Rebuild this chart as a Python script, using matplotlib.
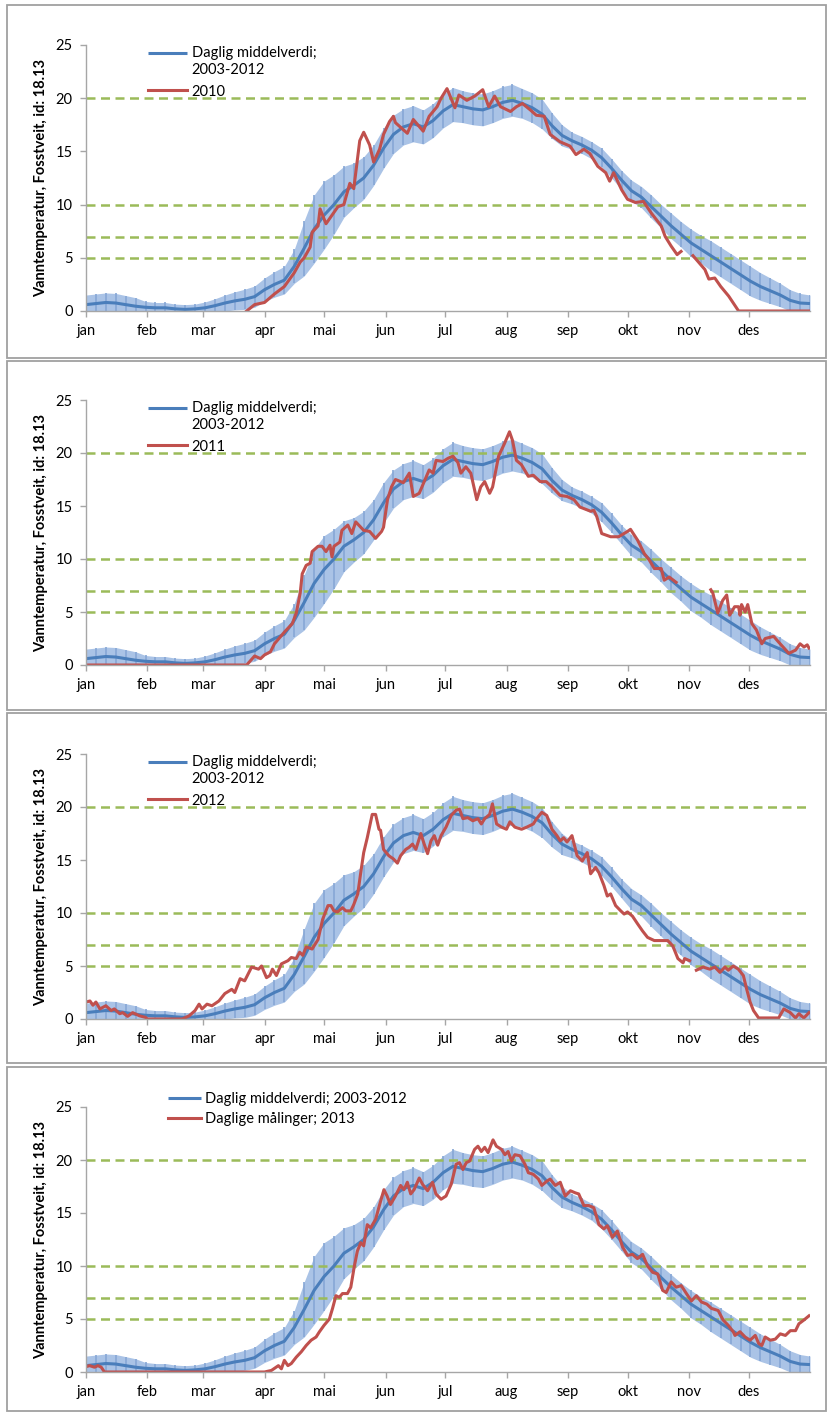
import numpy as np
import matplotlib
matplotlib.use("Agg")
import matplotlib.pyplot as plt
from matplotlib.patches import Rectangle
from matplotlib.legend_handler import HandlerLine2D

plt.rcParams['font.family'] = ['Lato', 'DejaVu Sans']

# ---------------- data ----------------
month_start = [0, 31, 59, 90, 120, 151, 181, 212, 243, 273, 304, 334]
month_labels = ['jan', 'feb', 'mar', 'apr', 'mai', 'jun', 'jul', 'aug', 'sep', 'okt', 'nov', 'des']
y_ticks = [0, 5, 10, 15, 20, 25]
thresholds = [5, 7, 10, 20]

mean_days = np.arange(0, 366, 5)
mean_vals = np.array([
    0.6, 0.7, 0.8, 0.75, 0.6, 0.45,
    0.35, 0.3, 0.3, 0.2, 0.15, 0.2,
    0.3, 0.5, 0.75, 0.95, 1.1, 1.35,
    2.0, 2.5, 2.9, 4.2,
    5.9, 7.7, 9.0, 10.0,
    11.2, 11.8, 12.5, 13.7, 15.3,
    16.6, 17.3, 17.6, 17.3, 17.9, 18.8,
    19.4, 19.2, 19.0, 18.9, 19.2, 19.6, 19.8, 19.5, 19.1, 18.5,
    17.4, 16.5,
    16.0, 15.6, 15.1, 14.4, 13.4, 12.3,
    11.3, 10.7, 9.8, 8.9, 8.0, 7.2,
    6.4, 5.8, 5.2, 4.6, 4.0, 3.4,
    2.8, 2.3, 1.9, 1.5, 1.0, 0.75, 0.7])
mean_std = np.array([
    0.9, 0.9, 0.9, 0.9, 0.85, 0.8,
    0.55, 0.5, 0.5, 0.45, 0.45, 0.45,
    0.55, 0.65, 0.75, 0.85, 0.95, 1.0,
    1.1, 1.2, 1.3, 1.6,
    2.6, 3.2, 3.2, 2.8,
    2.4, 2.1, 2.0, 1.9, 1.9,
    1.8, 1.7, 1.7, 1.6, 1.6, 1.6,
    1.6, 1.5, 1.5, 1.5, 1.5, 1.5, 1.5, 1.4, 1.4, 1.4,
    1.2, 1.0,
    0.8, 0.8, 0.8, 0.9, 0.9, 0.9,
    1.0, 1.0, 1.1, 1.1, 1.2, 1.2,
    1.3, 1.3, 1.4, 1.4, 1.4, 1.4,
    1.4, 1.3, 1.2, 1.1, 1.0, 0.9, 0.8])

nan = np.nan
y2010_days = [81, 85, 90, 95, 100, 105, 108, 110, 113, 114, 117, 118, 121, 124, 127, 130, 133, 135,
              138, 140, 143, 145, 148, 150, 153, 155,
              156, 162, 165, 170, 173, 177, 179, 182, 186, 188, 192, 196, 200, 203, 206, 209, 214,
              217, 220, 224, 227, 231, 234, 239, 244, 247, 251, 254, 258, 262, 264, 266, 270, 273,
              277, 281, 285, 290, 292, 295, 298, 300, 302, 306, 312, 314, 317, 320, 324, 329, 365]
y2010_vals = [0, 0.6, 0.8, 1.6, 2.3, 3.6, 4.6, 5.0, 6.0, 7.4, 8.0, 9.6, 8.2, 9.0, 9.8, 10.0, 12.0, 11.5,
              16.0, 16.8, 15.6, 14.0, 15.2, 16.6, 17.8, 18.3,
              17.7, 16.7, 18.0, 16.9, 18.3, 19.2, 20.0, 20.9, 19.1, 20.3, 19.8, 20.2, 20.8, 19.2, 20.2, 19.2, 18.75,
              19.2, 19.5, 18.9, 18.4, 18.3, 16.6, 15.9, 15.5, 14.7, 15.2, 14.8, 13.6, 13.0, 12.2, 13.0, 11.4, 10.5,
              10.2, 10.3, 9.2, 8.0, 7.0, 6.1, 5.3, 5.6, nan, 5.2, 3.9, 3.0, 3.1, 2.3, 1.4, 0, 0]

y2011_days = [0, 81, 85, 88, 90, 93, 95, 100, 104, 106, 108, 109, 111, 113, 114, 117, 119, 121, 123, 124,
              125, 128, 129, 132, 134, 136, 139, 140, 143, 146, 149, 150, 152, 154,
              156, 160, 163, 165, 168, 170.5, 173, 175, 176.5, 180, 182.5, 185, 187.5, 189, 191.5, 194,
              197, 199, 201, 203.5, 205, 208, 211, 213.5, 215, 217, 219.5, 223, 225.5, 229, 232, 235,
              239, 242.5, 246, 249, 254.5, 256, 257.5, 260, 264.5, 268.5, 273, 274.5, 278, 281.5, 284,
              286.5, 290, 291.5, 294, 297.5, 306, 315, 316, 318.5, 321, 323, 324.5, 327, 329, 329.7,
              330.5, 332.3, 333.6, 335.7, 338, 340.7, 342.4, 346.7, 349, 354.3, 357.7, 360, 362, 363.6, 364.5]
y2011_vals = [0, 0, 0.85, 0.6, 0.95, 1.25, 2.0, 3.1, 3.9, 4.9, 6.8, 8.6, 9.4, 9.6, 10.7, 11.2, 11.2, 10.7, 11.3, 10.2,
              11.2, 11.6, 12.7, 13.2, 12.4, 13.5, 12.9, 12.7, 12.6, 11.95, 12.6, 13.0, 15.6, 16.8,
              17.5, 17.2, 18.1, 15.9, 16.2, 17.3, 18.4, 18.1, 19.3, 19.2, 19.5, 19.7, 19.1, 18.1, 18.7, 18.1,
              15.6, 16.8, 17.3, 16.2, 16.8, 19.7, 20.9, 22.0, 21.2, 19.3, 18.9, 17.8, 17.9, 17.3, 17.3, 16.8,
              16.0, 15.9, 15.6, 14.9, 14.5, 14.6, 14.0, 12.4, 12.1, 12.1, 12.6, 12.8, 11.8, 10.5, 9.9,
              9.1, 9.1, 8.0, 8.3, 7.8, nan, 7.1, 6.8, 4.9, 6.1, 6.6, 4.7, 5.5, 5.5, 4.7,
              5.7, 5.0, 5.7, 3.9, 3.3, 2.0, 2.5, 2.7, 2.2, 1.1, 1.4, 2.0, 1.7, 1.9, 1.6]

y2012_days = [0, 2, 3.5, 5, 7, 8.5, 10, 12.7, 14.3, 17, 18.5, 21, 23.5, 27, 30, 31, 48.5, 52, 55, 57,
              58.5, 61, 63.5, 67, 70, 73.5, 75, 77.7, 80, 83.5, 87, 88.5, 91, 92.7, 94, 96, 98.5, 101.8,
              103.5, 106, 107.7, 109.3, 111, 114, 117, 119.3, 122, 123.5, 125, 126.8, 129.3, 131, 133.5,
              135, 137, 138.5, 140, 141.8, 144.3, 146, 147.7, 148.5, 150, 152.7, 155, 157,
              158.6, 161.2, 162.9, 164.6, 166.3, 168.8, 170.5, 172.2, 173.9, 175.6, 177.3, 179, 181.5,
              184.1, 186.6, 188.3, 190, 192.5, 195, 197.6, 199.3, 201, 203.5, 204.9, 207, 209.5, 212,
              213.7, 216.2, 219.6, 222.2, 225.5, 227.2, 229.8, 232.3, 234.9, 237.4, 239.1, 240.8, 242.5,
              245, 247.6, 250.2, 252.7, 254.4, 256.9, 258.6, 261.1, 262.8, 264.5, 267, 269.6, 271.3, 273,
              275.5, 278, 280.6, 283.1, 286.5, 289.9, 293.3, 295.8, 298.4, 301, 301.8, 304.3, 306, 307.7,
              311.1, 314.5, 317, 319.6, 322.1, 323.8, 326.3, 328.9, 331.4, 333.1, 334.8, 336.5, 339.1,
              342.4, 349.2, 351.8, 355.1, 357.7, 359.4, 361.9, 364.5]
y2012_vals = [1.6, 1.7, 1.3, 1.6, 0.95, 1.1, 1.25, 0.8, 0.95, 0.5, 0.6, 0.25, 0.6, 0.3, 0.15, 0, 0, 0.3, 0.8, 1.4,
              0.95, 1.4, 1.25, 1.7, 2.4, 2.8, 2.5, 3.8, 3.6, 4.9, 4.7, 5.0, 3.9, 4.1, 4.7, 4.1, 5.2, 5.5,
              5.8, 5.7, 6.3, 6.0, 6.8, 6.6, 7.5, 9.4, 10.7, 10.7, 10.2, 10.1, 10.5, 10.2, 10.2,
              10.8, 11.8, 13.8, 15.7, 17.1, 19.3, 19.3, 17.9, 17.8, 16.0, 15.4, 15.1, 14.7,
              15.4, 16.0, 16.2, 16.5, 16.0, 17.5, 16.5, 15.6, 16.8, 17.3, 16.4, 17.3, 18.1,
              19.2, 19.7, 19.8, 18.9, 19.0, 18.7, 18.9, 18.4, 18.9, 19.3, 20.3, 18.4, 18.1, 17.9,
              18.6, 18.1, 17.9, 18.1, 18.4, 18.9, 19.5, 19.2, 17.9, 17.3, 16.8, 17.1, 16.7,
              17.3, 15.4, 14.9, 15.7, 13.7, 14.3, 13.8, 12.6, 11.6, 11.8, 10.7, 10.2, 9.9, 10.1,
              9.7, 9.0, 8.3, 7.7, 7.4, 7.4, 7.4, 6.9, 5.7, 5.3, 5.7, 5.5, nan, 4.6,
              4.9, 4.7, 4.9, 4.4, 4.9, 4.6, 5.0, 4.7, 4.1, 2.8, 1.6, 0.8, 0.1,
              0.1, 0.1, 0.95, 0.6, 0.1, 0.5, 0.1, 0.6]

y2013_days = [0, 1.8, 4.3, 6, 7.7, 9.3, 90, 93.5, 97, 98.5, 100, 101.8, 103.5, 106, 108.5, 111, 113.5,
              116, 117.7, 120, 122.7, 124.3, 126, 127.7, 129.3, 131.8, 133.5, 135.2, 136.8, 138.5, 140,
              141.8, 143.5, 146, 148.5, 150.2, 151.8, 153.5, 156,
              158.6, 160.3, 162, 163.7, 165.4, 168, 169.7, 172.2, 174.7, 176.4, 179, 181.5, 184.1,
              186.6, 188.3, 190, 191.7, 193.4, 195.9, 197.6, 199.3, 201, 202.7, 205.2, 206.9, 209.5,
              211.2, 212.8, 214.5, 216.2, 218.8, 221.3, 223, 225.5, 228.1, 229.8, 232.3, 234, 236.6,
              239.1, 241.6, 244.2, 246.7, 248.4, 251, 253.5, 256, 258.6, 261.1, 262.8, 265.4, 267.9,
              270.5, 273, 275.5, 278, 280.6, 283.1, 285.7, 288.2, 290.7, 292.5, 295, 297.5, 300.1,
              302.7, 305.2, 307.7, 310.3, 313, 315.3, 318.7, 321.2, 323.8, 326.3, 327.2, 329.7, 332.3,
              334.8, 337.4, 339.1, 340.7, 342.4, 345, 347.5, 350, 352.6, 355.1, 357.7, 359.4, 361.9, 364.5]
y2013_vals = [0.5, 0.6, 0.45, 0.6, 0.45, 0, 0, 0.15, 0.6, 0.3, 1.1, 0.6, 0.8, 1.4, 1.9, 2.5, 3.0,
              3.3, 3.8, 4.4, 5.0, 6.0, 7.2, 7.05, 7.4, 7.4, 8.0, 9.9, 11.4, 12.2, 11.9,
              13.9, 13.6, 14.4, 16.1, 17.2, 16.6, 15.8, 16.6,
              17.6, 17.2, 17.9, 16.8, 17.2, 18.3, 17.7, 17.1, 17.9, 16.8, 16.3, 16.6, 17.7,
              19.6, 19.75, 19.1, 19.75, 19.9, 21.0, 21.3, 20.8, 21.2, 20.7, 21.9, 21.3, 21.0,
              20.5, 20.8, 19.9, 20.5, 20.4, 19.6, 18.8, 18.65, 18.2, 17.6, 18.0, 18.2, 17.6,
              17.9, 16.6, 17.1, 16.9, 16.8, 15.7, 15.7, 15.5, 13.9, 13.5, 13.8, 12.7, 13.3,
              11.8, 11.0, 11.1, 10.7, 11.1, 10.0, 9.4, 9.25, 7.7, 7.5, 8.5, 8.0, 8.15,
              7.4, 6.7, 7.2, 6.6, 6.4, 6.0, 5.8, 4.9, 4.4, 3.8, 3.45, 3.8, 3.3,
              3.0, 3.45, 2.7, 2.5, 3.3, 3.0, 3.1, 3.6, 3.45, 3.9, 3.9, 4.55, 4.9, 5.3]

mean_label_split = 'Daglig middelverdi;\n2003-2012'
mean_label_one = 'Daglig middelverdi; 2003-2012'
panel_series = [
    (y2010_days, y2010_vals, '2010'),
    (y2011_days, y2011_vals, '2011'),
    (y2012_days, y2012_vals, '2012'),
    (y2013_days, y2013_vals, 'Daglige målinger; 2013'),
]

# ---------------- styling ----------------
W, H = 829, 1414
BLUE = '#4a7ebb'
RED = '#c0504d'
GREEN = '#9bbb59'
BAND = '#aac3e6'
BAR = '#86a7d6'
SPINE = '#a6a6a6'
FS = 10.5


class FirstLineHandler(HandlerLine2D):
    def __init__(self, shift=0.0, **kw):
        super().__init__(**kw)
        self.shift = shift

    def create_artists(self, legend, orig_handle, xdescent, ydescent, width, height, fontsize, trans):
        arts = super().create_artists(legend, orig_handle, xdescent, ydescent, width, height, fontsize, trans)
        for a in arts:
            a.set_ydata(np.asarray(a.get_ydata(), dtype=float) + self.shift * fontsize)
        return arts


fig = plt.figure(figsize=(W / 100, H / 100), dpi=100)

# panel frames (pixels: left, top, right, bottom)
frames = [(7, 5, 826, 358), (7, 361, 826, 710), (7, 713, 826, 1063), (7, 1067, 826, 1411)]
# axes positions: y pixel of value 25 and of value 0
axes_px = [(45, 311), (400, 665), (754, 1019), (1107, 1372)]
x_left, x_right = 86, 810

for i, ((rd, rv, rlab), (ytop, ybot), fr) in enumerate(zip(panel_series, axes_px, frames)):
    fig.add_artist(Rectangle((fr[0] / W, 1 - fr[3] / H), (fr[2] - fr[0]) / W, (fr[3] - fr[1]) / H,
                             transform=fig.transFigure, fill=False, ec='#a0a0a0', lw=1.3))
    ax = fig.add_axes([x_left / W, 1 - ybot / H, (x_right - x_left) / W, (ybot - ytop) / H])

    ax.fill_between(mean_days, mean_vals - mean_std, mean_vals + mean_std, color=BAND, lw=0, zorder=1)
    ax.errorbar(mean_days, mean_vals, yerr=mean_std, fmt='none', ecolor=BAR, elinewidth=1.2,
                capsize=0, zorder=2)
    for t in thresholds:
        ax.axhline(t, color=GREEN, lw=1.8, ls=(0, (3.6, 2.2)), zorder=3)
    last = i == 3
    blue_line, = ax.plot(mean_days, mean_vals, color=BLUE, lw=2.2, zorder=4,
                         label=mean_label_one if last else mean_label_split,
                         solid_capstyle='butt')
    ax.plot(rd, rv, color=RED, lw=2.2, zorder=5, label=rlab, solid_joinstyle='round')

    ax.set_xlim(0, 365)
    ax.set_ylim(0, 25)
    ax.set_xticks(month_start)
    ax.set_xticklabels(month_labels)
    ax.set_yticks(y_ticks)
    ax.tick_params(axis='both', direction='out', length=4.5, width=1, color=SPINE,
                   labelsize=FS, labelcolor='black', pad=5)
    for s in ['top', 'right']:
        ax.spines[s].set_visible(False)
    for s in ['left', 'bottom']:
        ax.spines[s].set_color(SPINE)
        ax.spines[s].set_linewidth(1)
        ax.spines[s].set_zorder(6)
    ax.set_ylabel('Vanntemperatur, Fosstveit, id: 18.13', fontsize=10.5, fontweight='bold')
    ax.yaxis.set_label_coords(-0.052, 0.5)

    if last:
        ax.legend(loc='upper left', bbox_to_anchor=(0.113, 1.058), frameon=False, borderpad=0,
                  borderaxespad=0, handlelength=2.3, handletextpad=0.25, labelspacing=0.45,
                  fontsize=FS)
    else:
        ax.legend(loc='upper left', bbox_to_anchor=(0.0856, 0.995), frameon=False, borderpad=0,
                  borderaxespad=0, handlelength=2.7, handletextpad=0.3, labelspacing=0.55,
                  fontsize=FS, handler_map={blue_line: FirstLineHandler(0.6)})

fig.savefig('out.png', dpi=100)
